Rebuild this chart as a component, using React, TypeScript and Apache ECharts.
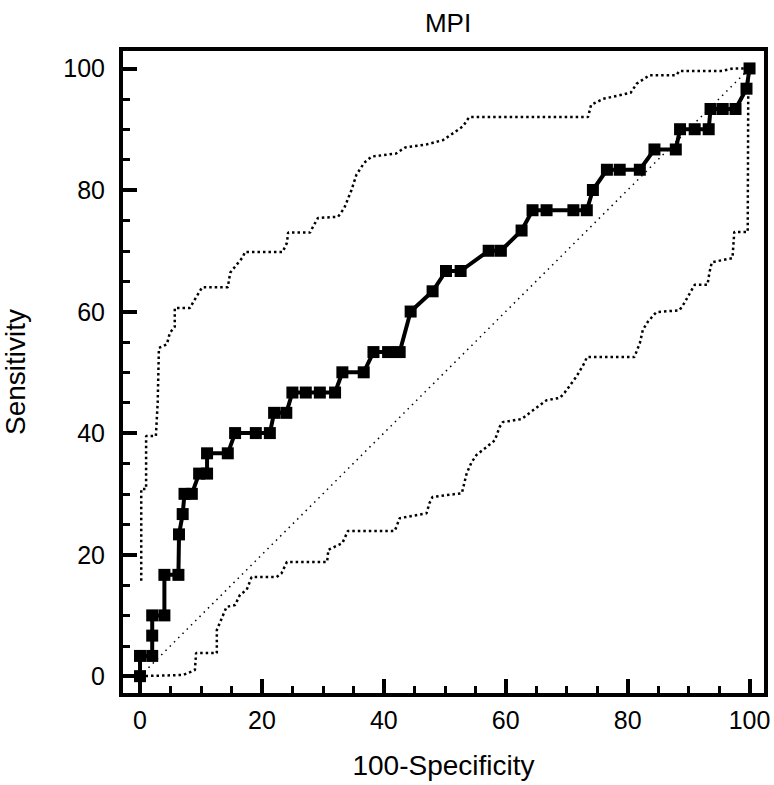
import React, { useEffect, useRef } from "react";
import * as echarts from "echarts";

const FONT = "'Liberation Sans', Arial, Helvetica, sans-serif";

// ROC curve points (100-Specificity, Sensitivity)
const rocFpr = [0, 0, 2, 2, 2, 4, 4, 6.3, 6.4, 7, 7.3, 8.5, 9.7, 11, 11, 14.4, 15.6, 19, 21.3, 22, 24, 25, 27.2, 29.5, 32, 33.2, 36.7, 38.3, 40.7, 42.6, 44.4, 48, 50.2, 52.6, 57.2, 59.2, 62.6, 64.4, 66.7, 71.1, 73.3, 74.3, 76.6, 78.7, 82, 84.4, 87.9, 88.6, 91, 93.3, 93.6, 95.6, 97.7, 99.5, 100];
const rocSens = [0, 3.33, 3.33, 6.67, 10, 10, 16.67, 16.67, 23.33, 26.67, 30, 30, 33.33, 33.33, 36.67, 36.67, 40, 40, 40, 43.33, 43.33, 46.67, 46.67, 46.67, 46.67, 50, 50, 53.33, 53.33, 53.33, 60, 63.33, 66.67, 66.67, 70, 70, 73.33, 76.67, 76.67, 76.67, 76.67, 80, 83.33, 83.33, 83.33, 86.67, 86.67, 90, 90, 90, 93.33, 93.33, 93.33, 96.67, 100];

// Upper 95% confidence bound
const upperFpr = [0.2, 0.2, 1.0, 1.0, 2.6, 2.9, 3.1, 4.4, 4.9, 5.7, 5.7, 8.2, 8.7, 9.3, 10.2, 14.4, 14.8, 15.6, 16.9, 17.2, 23.4, 24.1, 24.3, 27.9, 28.4, 29.2, 32.5, 33.5, 34.7, 35.5, 36.8, 38, 42, 43.5, 47, 49.7, 51.6, 53, 54, 73.5, 74, 76, 80.5, 81.5, 83.6, 88, 88.5, 95.5, 97.3, 100];
const upperSens = [15.7, 30.8, 30.8, 39.5, 39.5, 45, 54, 54.6, 56.5, 57.5, 60.6, 60.6, 61.5, 62.5, 64, 64, 66.4, 67.4, 69, 69.8, 69.8, 71.3, 73, 73, 74, 75.4, 75.6, 77, 80, 82.5, 84.5, 85.5, 86, 87, 87.5, 88.2, 89.5, 90.5, 92, 92, 94, 95, 96, 97.5, 98.9, 98.9, 99.6, 99.6, 100, 100];

// Lower 95% confidence bound
const lowerFpr = [0, 7.1, 9.0, 9.2, 12.6, 12.6, 14.2, 15.6, 16.4, 17.5, 18.3, 22.4, 23.2, 24.1, 30.7, 30.9, 33.2, 34.1, 41.8, 42.6, 47, 47.5, 48, 52.8, 53.6, 54.4, 55.2, 56.6, 58.2, 59, 59.5, 62.6, 63.9, 65.6, 66.7, 68.9, 69.7, 71.6, 73, 73.3, 81.1, 82, 82.5, 83.3, 84.7, 88.5, 89.3, 90.2, 91, 93.1, 93.4, 93.8, 97.2, 97.5, 99.7, 99.8, 100];
const lowerSens = [0, 0.2, 1.0, 3.8, 3.8, 7.6, 11.4, 11.7, 13.4, 14.2, 16.3, 16.3, 16.9, 18.8, 18.8, 20.8, 21.9, 23.9, 23.9, 26, 26.8, 28.5, 29.5, 30.1, 33.4, 35.2, 36.4, 37.5, 38.8, 41, 41.8, 42.3, 43.3, 44.6, 45.4, 45.8, 46.7, 49.3, 51.7, 52.5, 52.5, 54.8, 57, 58.3, 59.9, 60.2, 61.4, 63, 64.4, 64.4, 66.3, 68.1, 68.8, 73.1, 73.1, 99.5, 100];

const diagX = [0, 100];
const diagY = [0, 100];

const majorTicks = [0, 20, 40, 60, 80, 100];
const minorTicks = [5, 10, 15, 25, 30, 35, 45, 50, 55, 65, 70, 75, 85, 90, 95];

const zip = (a: number[], b: number[]) => a.map((v, i) => [v, b[i]]);

export default function App() {
  const ref = useRef<HTMLDivElement>(null);

  useEffect(() => {
    document.body.style.margin = "0";
    if (!ref.current) return;
    const chart = echarts.init(ref.current, null, { renderer: "svg" });
    const XMIN = -3.12, XMAX = 102.7, YMIN = -3.1, YMAX = 103.2;
    const L = 121, T = 49, W = 645, H = 646, EXT = 20;
    const labelStyle = { color: "#000", fontSize: 25, fontFamily: FONT };
    const frameRect = { left: L, top: T, width: W, height: H, outerBoundsMode: "none" };
    const yTickRect = { left: L - EXT, top: T, width: W + EXT, height: H };
    const xTickRect = { left: L, top: T - EXT, width: W, height: H + EXT };
    const majorTick = { show: true, inside: true, length: 16, customValues: majorTicks, lineStyle: { color: "#000", width: 4 } };
    const minorTick = { show: true, inside: true, length: 9, customValues: minorTicks, lineStyle: { color: "#000", width: 3 } };
    const quiet = {
      axisLine: { show: false },
      axisTick: { show: false },
      axisLabel: { show: false },
      splitLine: { show: false },
    };
    // helper axes: their zero falls on the frame edge, inside their own slightly larger grid
    const helperX = (gridIndex: number) => ({ type: "value", gridIndex, min: -EXT, max: W, ...quiet });
    const helperY = (gridIndex: number) => ({ type: "value", gridIndex, min: 0, max: H + EXT, ...quiet });
    const tickAxis = (gridIndex: number, min: number, max: number, position: string, tick: any) => ({
      type: "value",
      gridIndex,
      min,
      max,
      position,
      axisLine: { show: false },
      splitLine: { show: false },
      axisTick: tick,
      axisLabel: { show: false },
    });
    chart.setOption({
      animation: false,
      backgroundColor: "#fff",
      title: {
        text: "MPI",
        left: 443,
        top: 5,
        textAlign: "center",
        textStyle: { color: "#000", fontSize: 26, fontWeight: "normal", fontFamily: FONT },
      },
      grid: [
        { ...frameRect, show: true, borderColor: "#000", borderWidth: 4, backgroundColor: "transparent" },
        { ...yTickRect },
        { ...yTickRect },
        { ...xTickRect },
        { ...xTickRect },
      ],
      xAxis: [
        {
          type: "value",
          gridIndex: 0,
          min: XMIN,
          max: XMAX,
          position: "bottom",
          axisLine: { show: false, onZero: false },
          axisTick: { show: false },
          splitLine: { show: false },
          axisLabel: { ...labelStyle, customValues: majorTicks, margin: 12 },
          name: "100-Specificity",
          nameLocation: "middle",
          nameGap: 56,
          nameTextStyle: { color: "#000", fontSize: 28, lineHeight: 28, fontFamily: FONT },
        },
        helperX(1),
        helperX(2),
        tickAxis(3, XMIN, XMAX, "bottom", majorTick),
        tickAxis(4, XMIN, XMAX, "bottom", minorTick),
      ],
      yAxis: [
        {
          type: "value",
          gridIndex: 0,
          min: YMIN,
          max: YMAX,
          position: "left",
          axisLine: { show: false, onZero: false },
          axisTick: { show: false },
          splitLine: { show: false },
          axisLabel: { ...labelStyle, customValues: majorTicks, margin: 16 },
          name: "Sensitivity",
          nameLocation: "middle",
          nameGap: 92,
          nameTextStyle: { color: "#000", fontSize: 28, lineHeight: 28, fontFamily: FONT },
        },
        tickAxis(1, YMIN, YMAX, "left", majorTick),
        tickAxis(2, YMIN, YMAX, "left", minorTick),
        helperY(3),
        helperY(4),
      ],
      series: [
        {
          type: "line",
          name: "Reference",
          data: zip(diagX, diagY),
          symbol: "none",
          lineStyle: { color: "#000", width: 1.5, type: [1.5, 4.5] },
          z: 2,
        },
        {
          type: "line",
          name: "Upper CI",
          data: zip(upperFpr, upperSens),
          symbol: "none",
          lineStyle: { color: "#000", width: 2.5, type: [2.5, 3] },
          z: 2,
        },
        {
          type: "line",
          name: "Lower CI",
          data: zip(lowerFpr, lowerSens),
          symbol: "none",
          lineStyle: { color: "#000", width: 2.5, type: [2.5, 3] },
          z: 2,
        },
        {
          type: "line",
          name: "MPI",
          data: zip(rocFpr, rocSens),
          symbol: "rect",
          symbolSize: 12,
          itemStyle: { color: "#000" },
          lineStyle: { color: "#000", width: 4 },
          z: 5,
        },
      ],
    });
    return () => chart.dispose();
  }, []);

  return <div ref={ref} style={{ width: 774, height: 785 }} />;
}
